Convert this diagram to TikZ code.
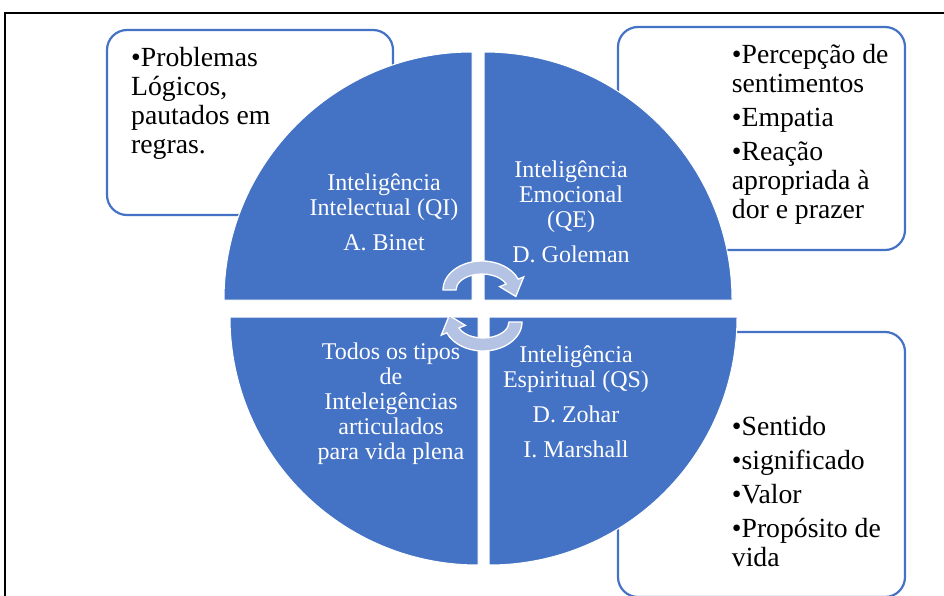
\documentclass[tikz,border=0pt]{standalone}
\usepackage{fontspec}
\setmainfont{Liberation Serif}
\usepackage{tikz}
\usetikzlibrary{arrows,calc}

\definecolor{azul}{RGB}{68,114,196}
\definecolor{azulclaro}{RGB}{180,194,228}

\begin{document}
\begin{tikzpicture}[x=1pt,y=1pt]
\tikzset{
    %quadrantes do circulo
    quadrante/.style={
           fill=azul,
           draw=white,
           line width=1pt},
    %caixas laterais
    caixa/.style={
           draw=azul,
           line width=2.2pt,
           rounded corners=20pt,
           fill=white},
    textocaixa/.style={
           font=\fontsize{27.7}{29}\selectfont,
           align=left,
           inner sep=0pt,
           anchor=north west},
    textoquad/.style={
           font=\fontsize{24}{25}\selectfont,
           text=white,
           align=center,
           inner sep=0pt},
    seta/.style={
           fill=azulclaro,
           draw=white,
           line width=1.3pt,
           line join=miter}
}
\useasboundingbox (0,0) rectangle (944,595);

%moldura
\draw[line width=1.2pt] (5,-10) -- (5,582) -- (960,582);

%caixas
\draw[caixa] (107,565) rectangle (393,380);
\draw[caixa] (618,568) rectangle (905,345);
\draw[caixa] (618,263) rectangle (905,-2);

%quadrantes
\draw[quadrante] (472,295) -- ++(-248,0) arc[start angle=180, end angle=90, radius=248] -- cycle;
\draw[quadrante] (484,295) -- ++(0,248) arc[start angle=90, end angle=0, radius=248] -- cycle;
\draw[quadrante] (478,278) -- ++(-248,0) arc[start angle=180, end angle=270, radius=248] -- cycle;
\draw[quadrante] (489,278) -- ++(248,0) arc[start angle=0, end angle=-90, radius=248] -- cycle;

%setas circulares
\begin{scope}[shift={(482,305)}]
\filldraw[seta] (180:39 and 29) arc[start angle=180, end angle=22, x radius=39, y radius=29]
    -- (22:45 and 35) -- (-15:35 and 25) -- (22:19 and 9) -- (22:26 and 16)
    arc[start angle=22, end angle=180, x radius=26, y radius=16] -- cycle;
\end{scope}
\begin{scope}[shift={(483,273)}, rotate=180]
\filldraw[seta] (180:39 and 29) arc[start angle=180, end angle=22, x radius=39, y radius=29]
    -- (22:45 and 35) -- (-15:35 and 25) -- (22:19 and 9) -- (22:26 and 16)
    arc[start angle=22, end angle=180, x radius=26, y radius=16] -- cycle;
\end{scope}

%textos dos quadrantes
\node(qi)    [textoquad] at (384,383)   {Inteligência\\Intelectual (QI)\\[10pt]A. Binet};
\node(qe)    [textoquad] at (571,383) {Inteligência\\Emocional\\(QE)\\[10pt]D. Goleman};
\node(todas) [textoquad] at (391,191)   {Todos os tipos\\de\\Inteleigências\\articulados\\para vida plena};
\node(qs)    [textoquad] at (576,193.5) {Inteligência\\Espiritual (QS)\\[10pt]D. Zohar\\[10pt]I. Marshall};

%textos das caixas
\node(logica)  [textocaixa] at (131,547.5)   {•Problemas\\Lógicos,\\pautados em\\regras.};
\node(emocao)  [textocaixa] at (731.7,551) {•Percepção de\\sentimentos\\[5pt]•Empatia\\[5pt]•Reação\\apropriada à\\dor e prazer};
\node(sentido) [textocaixa] at (731.7,179) {•Sentido\\[5pt]•significado\\[5pt]•Valor\\[5pt]•Propósito de\\vida};
\end{tikzpicture}
\end{document}
